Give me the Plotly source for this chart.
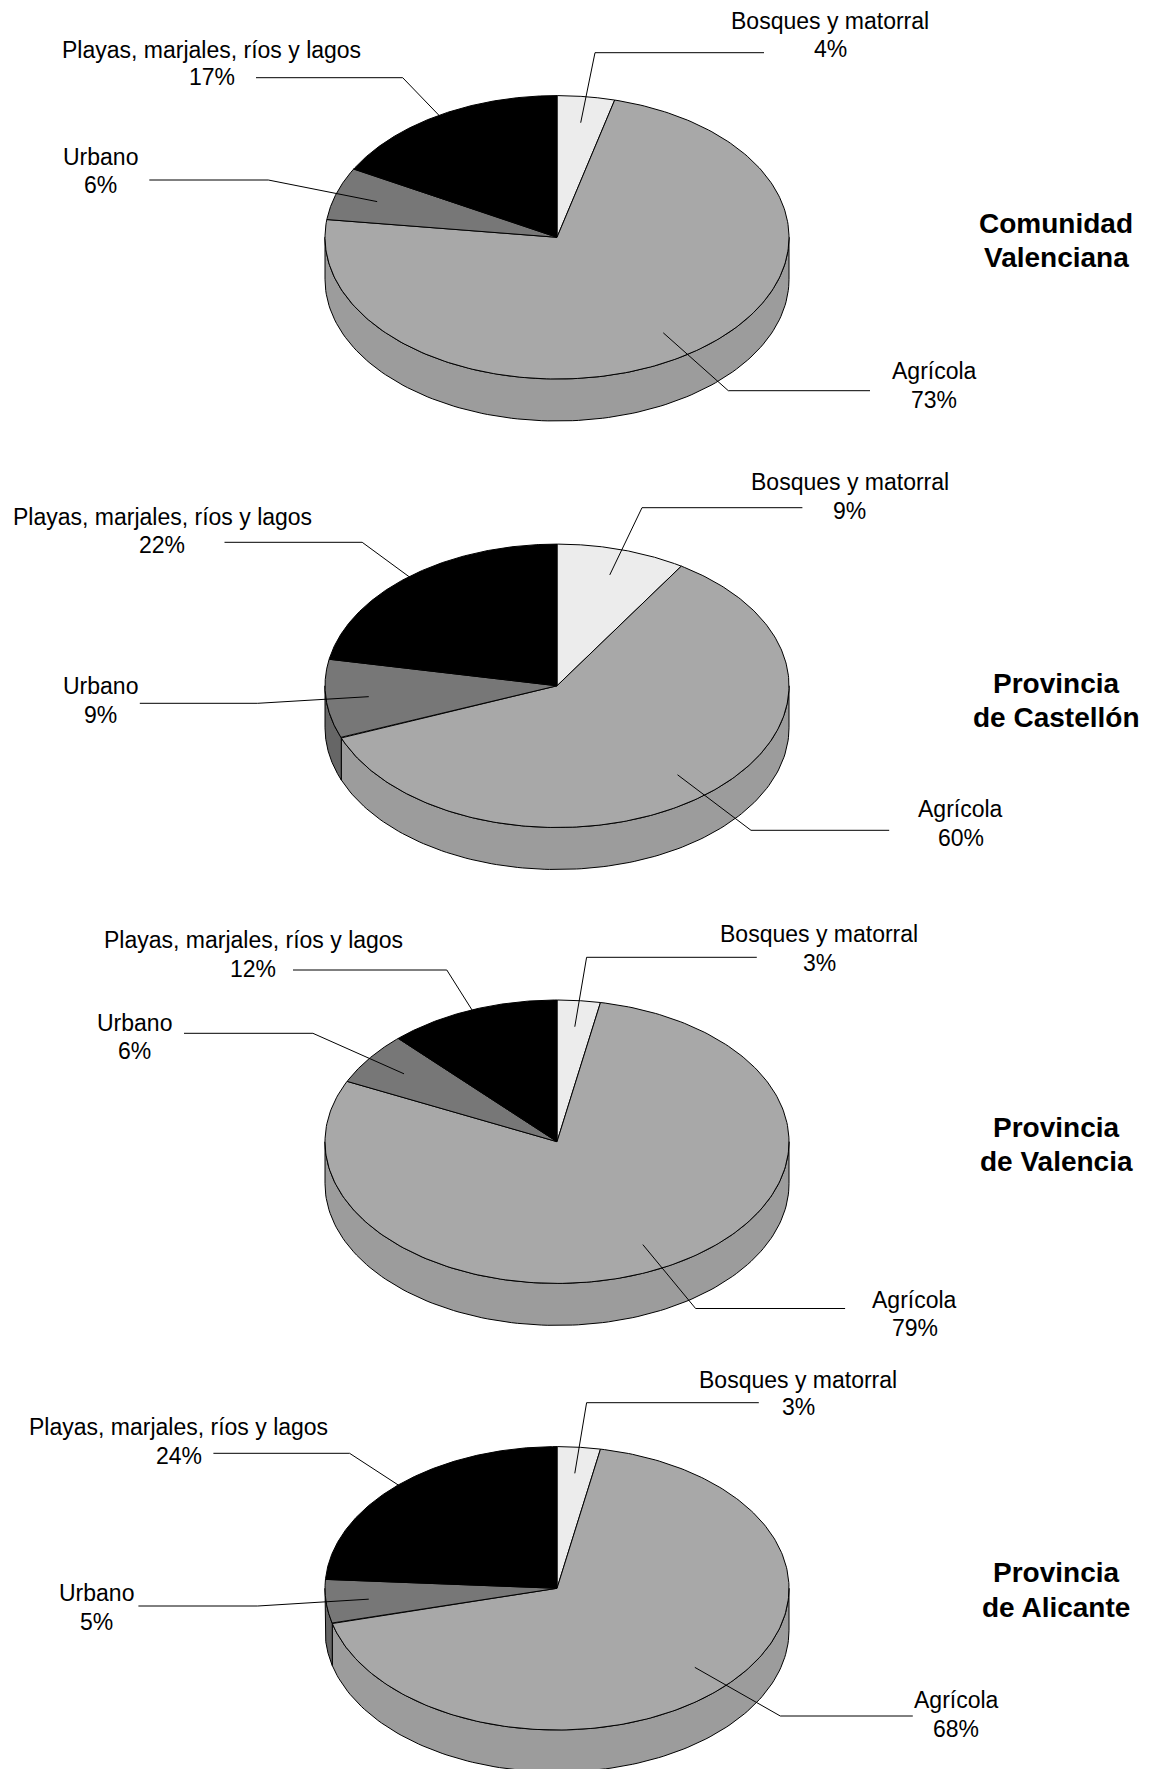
import numpy as np
import plotly.graph_objects as go

# ---- data -------------------------------------------------------------
categories = ["Bosques y matorral", "Agrícola", "Urbano",
              "Playas, marjales, ríos y lagos"]

region_titles = [
    ["Comunidad", "Valenciana"],
    ["Provincia", "de Castellón"],
    ["Provincia", "de Valencia"],
    ["Provincia", "de Alicante"],
]

shares_comunidad = [4, 73, 6, 17]
shares_castellon = [9, 60, 9, 22]
shares_valencia = [3, 79, 6, 12]
shares_alicante = [3, 68, 5, 24]

panel_shares = [shares_comunidad, shares_castellon, shares_valencia, shares_alicante]

# ---- styling / layout -------------------------------------------------
W, H = 1153, 1769
CX, RX, RY, DEPTH = 557, 232, 141.7, 42
TOP_COLORS = ["#ececec", "#a8a8a8", "#777777", "#000000"]
SIDE_COLORS = ["#d6d6d6", "#9c9c9c", "#666666", "#000000"]
FONT = "Arial, Liberation Sans, sans-serif"
LABEL_SIZE = 23
TITLE_SIZE = 28
TITLE_X = 1056
LEADER_R = 0.815

# per panel: pie centre y, title baselines, and for each category
# (text centre x, baseline 1, baseline 2, elbow x, elbow y, line end x)
panel_layout = [
    dict(cy=237.3, title=(232.7, 267.3), labels=[
        (830, 29.3, 57.0, 595, 52.7, 764),
        (934, 379.3, 408.3, 728.3, 390.7, 870),
        (100, 165.0, 193.3, 268.3, 180.0, 149.3),
        (211.7, 58.3, 85.0, 402.7, 77.7, 256),
    ]),
    dict(cy=685.8, title=(693.3, 727.3), labels=[
        (849.5, 490.0, 519.3, 642, 507.7, 802.4),
        (960.7, 816.7, 846.0, 751, 830.3, 889.2),
        (100.1, 694.0, 722.7, 257.7, 703.3, 139.8),
        (162, 525.0, 553.3, 362.2, 542.3, 224.5),
    ]),
    dict(cy=1141.7, title=(1136.7, 1170.7), labels=[
        (819, 941.7, 970.7, 586.6, 957.3, 756.8),
        (914.6, 1307.5, 1335.8, 695.6, 1308.5, 845.1),
        (134.5, 1030.7, 1059.3, 312.9, 1033.3, 184),
        (253.3, 948.3, 977.3, 446.8, 970.0, 293),
    ]),
    dict(cy=1588.3, title=(1581.7, 1616.7), labels=[
        (798, 1387.7, 1415.0, 586.6, 1402.7, 758.8),
        (956.2, 1708.3, 1737.3, 780.3, 1716.0, 912.8),
        (96.1, 1600.7, 1630.0, 257.7, 1606.0, 138.4),
        (178.9, 1435.0, 1464.0, 349.6, 1453.3, 213.4),
    ]),
]


def rim(theta_deg, cy, dy=0.0, r=1.0):
    t = np.radians(theta_deg)
    return CX + r * RX * np.sin(t), cy - r * RY * np.cos(t) + dy


def baseline_to_middle(baseline, size):
    # vertical centre of a single text line whose baseline sits at `baseline`
    return baseline - 0.3465 * size


fig = go.Figure()
annotations = []

for shares, lay, title in zip(panel_shares, panel_layout, region_titles):
    cy = lay["cy"]
    edges = np.concatenate([[0], np.cumsum(shares)]) * 3.6

    # visible front wall of each slice
    for i in range(len(shares)):
        lo, hi = max(edges[i], 90.0), min(edges[i + 1], 270.0)
        if hi <= lo:
            continue
        th = np.linspace(lo, hi, 120)
        xt, yt = rim(th, cy)
        xb, yb = rim(th[::-1], cy, DEPTH)
        fig.add_trace(go.Scatter(
            x=np.concatenate([xt, xb, xt[:1]]),
            y=np.concatenate([yt, yb, yt[:1]]),
            mode="lines", fill="toself", fillcolor=SIDE_COLORS[i],
            line=dict(color="#000000", width=1), hoverinfo="skip"))

    # top faces
    for i in range(len(shares)):
        th = np.linspace(edges[i], edges[i + 1], 240)
        xa, ya = rim(th, cy)
        fig.add_trace(go.Scatter(
            x=np.concatenate([[CX], xa, [CX]]),
            y=np.concatenate([[cy], ya, [cy]]),
            mode="lines", fill="toself", fillcolor=TOP_COLORS[i],
            line=dict(color="#000000", width=1), hoverinfo="skip"))

    # leader lines and labels
    for i, (name, val) in enumerate(zip(categories, shares)):
        tx, b1, b2, ex, ey, endx = lay["labels"][i]
        mid = (edges[i] + edges[i + 1]) / 2
        ax, ay = rim(mid, cy, r=LEADER_R)
        fig.add_trace(go.Scatter(
            x=[ax, ex, endx], y=[ay, ey, ey], mode="lines",
            line=dict(color="#000000", width=1), hoverinfo="skip"))
        for txt, base in ((name, b1), (f"{val}%", b2)):
            annotations.append(dict(
                x=tx, y=baseline_to_middle(base, LABEL_SIZE), xref="x", yref="y",
                text=txt, showarrow=False, xanchor="center", yanchor="middle",
                font=dict(family=FONT, size=LABEL_SIZE, color="#000000")))

    for txt, base in zip(title, lay["title"]):
        annotations.append(dict(
            x=TITLE_X, y=baseline_to_middle(base, TITLE_SIZE), xref="x", yref="y",
            text=f"<b>{txt}</b>", showarrow=False, xanchor="center", yanchor="middle",
            font=dict(family=FONT, size=TITLE_SIZE, color="#000000")))

fig.update_layout(
    width=W, height=H, margin=dict(l=0, r=0, t=0, b=0),
    paper_bgcolor="#ffffff", plot_bgcolor="#ffffff",
    showlegend=False, annotations=annotations,
    xaxis=dict(range=[0, W], visible=False, fixedrange=True),
    yaxis=dict(range=[H, 0], visible=False, fixedrange=True),
)

fig.write_html("out.html")
